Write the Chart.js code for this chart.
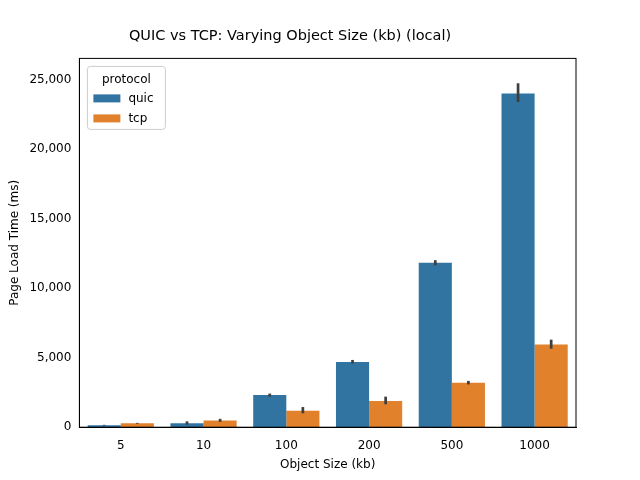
<!DOCTYPE html>
<html><head><meta charset="utf-8">
<script src="https://cdn.jsdelivr.net/npm/chart.js@4/dist/chart.umd.min.js"></script>
<style>body{margin:0;background:#fff}#w{width:640px;height:480px}</style>
</head><body><div id="w"><canvas id="c"></canvas></div>
<script>
const categories = ["5","10","100","200","500","1000"];
const quic = [140, 280, 2310, 4700, 11830, 24020];
const quicLo = [110, 180, 2200, 4580, 11650, 23400];
const quicHi = [170, 420, 2420, 4840, 12020, 24750];
const tcp = [280, 490, 1190, 1890, 3200, 5950];
const tcpLo = [250, 380, 1000, 1650, 3080, 5650];
const tcpHi = [310, 600, 1450, 2200, 3330, 6300];
const yTicks = [0,5000,10000,15000,20000,25000];

const errPlugin = {
  id:'err',
  afterDatasetsDraw(chart){
    const ctx=chart.ctx, y=chart.scales.y;
    [[quicLo,quicHi],[tcpLo,tcpHi]].forEach((r,di)=>{
      chart.getDatasetMeta(di).data.forEach((b,i)=>{
        ctx.save();ctx.strokeStyle='#3f3f3f';ctx.lineWidth=2.7;
        ctx.beginPath();ctx.moveTo(b.x,y.getPixelForValue(r[0][i]));ctx.lineTo(b.x,y.getPixelForValue(r[1][i]));ctx.stroke();ctx.restore();
      });
    });
    // legend
    const a=chart.chartArea;const x0=a.left+8,y0=a.top+8;
    ctx.save();ctx.fillStyle='rgba(255,255,255,0.8)';ctx.strokeStyle='#cccccc';ctx.lineWidth=1;
    ctx.beginPath();ctx.roundRect(x0,y0,78,63,3);ctx.fill();ctx.stroke();
    ctx.fillStyle='#000';ctx.font='12px "DejaVu Sans"';ctx.textBaseline='middle';ctx.textAlign='center';
    ctx.fillText('protocol',x0+39,y0+13);
    ctx.textAlign='left';
    [['quic','#3274a1'],['tcp','#e1812c']].forEach((l,i)=>{
      const yy=y0+32+i*20;ctx.fillStyle=l[1];ctx.fillRect(x0+6,yy-4,27,8);
      ctx.fillStyle='#000';ctx.fillText(l[0],x0+41,yy);
    });
    ctx.restore();
  }
};
new Chart(document.getElementById('c'),{
  type:'bar',
  data:{labels:categories,datasets:[
    {label:'quic',data:quic,backgroundColor:'#3274a1'},
    {label:'tcp',data:tcp,backgroundColor:'#e1812c'}]},
  options:{responsive:true,maintainAspectRatio:false,animation:false,
    layout:{padding:{top:10,right:64,left:4,bottom:4}},
    datasets:{bar:{categoryPercentage:0.8,barPercentage:1.0}},
    plugins:{legend:{display:false},tooltip:{enabled:false},
      title:{display:true,text:'QUIC vs TCP: Varying Object Size (kb) (local)',color:'#000',font:{family:'DejaVu Sans',size:14.5,weight:'normal'},padding:{top:18,bottom:13}}},
    scales:{
      x:{grid:{display:false,drawTicks:true,tickColor:'#000'},border:{color:'#000'},
        ticks:{color:'#000',font:{family:'DejaVu Sans',size:12}},
        title:{display:true,text:'Object Size (kb)',color:'#000',font:{family:'DejaVu Sans',size:12},padding:{top:2}}},
      y:{min:0,max:26540,grid:{display:false,drawTicks:true,tickColor:'#000',tickLength:5},border:{color:'#000'},
        afterBuildTicks(s){s.ticks=yTicks.map(v=>({value:v}));},
        ticks:{color:'#000',font:{family:'DejaVu Sans',size:12}},
        title:{display:true,text:'Page Load Time (ms)',color:'#000',font:{family:'DejaVu Sans',size:12}}}
    }},
  plugins:[errPlugin,{id:'frame',afterDraw(c){const a=c.chartArea,x=c.ctx;x.save();x.strokeStyle='#000';x.lineWidth=1;x.strokeRect(a.left,a.top,a.right-a.left,a.bottom-a.top);x.restore();}}]
});
</script></body></html>
